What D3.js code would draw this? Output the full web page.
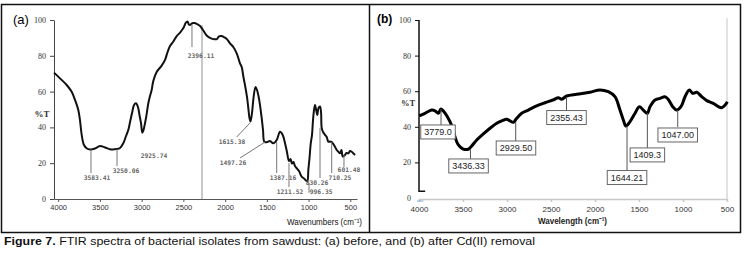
<!DOCTYPE html>
<html>
<head>
<meta charset="utf-8">
<script src="https://cdn.jsdelivr.net/npm/d3@7"></script>
<style>
  body { margin: 0; background: #fff; }
  svg { display: block; }
</style>
</head>
<body>
<svg id="chart" width="746" height="253"></svg>
<script>
// FTIR spectra, panel (a) before and (b) after Cd(II) removal
const xTicks = [4000, 3500, 3000, 2500, 2000, 1500, 1000, 500];
const yTicks = [0, 20, 40, 60, 80, 100];

// panel (a): wavenumber (cm-1) and %T
const wnA = [4050, 3978, 3898, 3838, 3798, 3759, 3739, 3718, 3691, 3655, 3619, 3559, 3499, 3439, 3379, 3299, 3259,
  3220, 3187, 3160, 3139, 3115, 3091, 3068, 3044, 3026, 3008, 2992, 2978, 2960, 2942, 2920, 2900, 2880, 2860, 2820,
  2760, 2720, 2690, 2660, 2620, 2580, 2540, 2500, 2470, 2450, 2435, 2420, 2395, 2370, 2340, 2300, 2265, 2221, 2169,
  2130, 2100, 2073, 2045, 2010, 1981, 1942, 1902, 1861, 1822, 1801, 1780, 1762, 1738, 1722, 1710, 1696, 1678, 1660,
  1636, 1618, 1600, 1582, 1562, 1546, 1530, 1502, 1462, 1423, 1382, 1342, 1310, 1283, 1259, 1235, 1217, 1199, 1181,
  1163, 1139, 1115, 1083, 1055, 1031, 1015, 1003, 989, 974, 959, 947, 935, 923, 909, 896, 881, 863, 851, 843, 827,
  803, 783, 763, 743, 723, 696, 663, 642, 624, 606, 591, 564, 546, 524, 504, 484, 462, 444];
const tA = [70.6, 67.4, 63.7, 59.9, 55.3, 49.7, 44.1, 35.8, 30.2, 28.2, 27.7, 28.2, 29.6, 28.8, 27.8, 27.9, 28.5,
  31.1, 35.2, 38.5, 43.0, 48.0, 52.5, 53.5, 51.4, 46.9, 42.5, 37.0, 38.5, 42.3, 46.9, 53.5, 57.5, 60.9, 66.0, 71.0,
  74.5, 77.7, 82.0, 85.5, 88.0, 91.0, 93.0, 95.5, 98.5, 99.2, 97.6, 97.2, 98.2, 98.3, 97.8, 96.6, 94.4, 91.3, 89.7,
  89.3, 89.3, 90.8, 91.0, 90.3, 89.4, 87.0, 84.9, 81.4, 75.8, 73.7, 68.0, 63.7, 57.0, 50.8, 45.8, 43.3, 48.0, 56.4,
  62.6, 60.9, 57.5, 52.5, 45.3, 38.5, 32.0, 31.7, 32.4, 31.1, 33.0, 37.6, 35.8, 31.3, 26.3, 21.2, 22.3, 19.8, 20.7,
  18.4, 17.0, 15.6, 12.5, 11.5, 10.3, 10.1, 16.2, 22.9, 31.1, 35.8, 44.1, 49.7, 52.5, 49.7, 46.9, 50.8, 51.7, 48.6, 39.7, 37.4,
  35.8, 34.6, 32.0, 32.1, 31.8, 30.2, 27.4, 26.3, 25.5, 27.4, 23.7, 24.6, 25.7, 25.5, 26.8, 26.4, 25.4, 24.6];

// panel (b)
const wnB = [3997, 3932, 3856, 3818, 3781, 3750, 3716, 3678, 3648, 3617, 3591, 3553, 3497, 3440, 3401, 3344, 3269,
  3193, 3117, 3060, 3003, 2966, 2928, 2890, 2833, 2758, 2663, 2568, 2474, 2417, 2378, 2322, 2208, 2057, 1943, 1849,
  1773, 1716, 1678, 1648, 1602, 1545, 1496, 1451, 1406, 1375, 1318, 1261, 1205, 1167, 1117, 1072, 1023, 977, 928,
  890, 844, 787, 730, 656, 599, 561, 522, 496];
const tB = [46.1, 47.6, 49.4, 49.0, 47.6, 50.0, 48.5, 45.7, 42.9, 39.2, 34.4, 29.8, 27.5, 27.4, 29.2, 32.6, 36.0,
  39.2, 42.0, 43.3, 44.2, 43.3, 42.5, 44.8, 47.6, 49.4, 51.7, 53.5, 55.1, 56.3, 55.5, 57.3, 58.3, 59.4, 60.7, 59.7,
  56.9, 49.4, 43.8, 40.4, 42.9, 47.6, 51.3, 49.4, 47.6, 51.3, 55.1, 56.0, 56.9, 55.4, 51.3, 49.4, 51.3, 56.9, 60.7,
  58.8, 59.4, 56.9, 54.7, 53.2, 51.3, 50.7, 52.2, 54.1];

// peak labels
const peaksA = ['2396.11', '3583.41', '3250.06', '2925.74', '1615.38', '1497.26', '1387.16', '1211.52', '996.35',
  '830.26', '710.25', '601.48'];
const peaksB = ['3779.0', '3436.33', '2929.50', '2355.43', '1644.21', '1409.3', '1047.00'];

// callout layout in data units: leader from (w1,t1) to (w2,t2), text at (tw,tt)
const layoutA = [
  { w1: 2397, t1: 97.5, w2: 2397, t2: 84.9, tw: 2289, tt: 78.8 },
  { w1: 3607, t1: 27.7, w2: 3607, t2: 14.5, tw: 3535, tt: 10.6 },
  { w1: 3295, t1: 27.9, w2: 3295, t2: 18.4, tw: 3187, tt: 14.5 },
  { w1: null, tw: 2852, tt: 22.9 },
  { w1: 1702, t1: 42.5, w2: 1861, t2: 34.6, tw: 1918, tt: 30.7 },
  { w1: 1522, t1: 31.8, w2: 1822, t2: 22.9, tw: 1906, tt: 19.0 },
  { w1: 1382, t1: 31.8, w2: 1382, t2: 14.5, tw: 1307, tt: 10.6 },
  { w1: 1235, t1: 20.1, w2: 1235, t2: 6.7, tw: 1223, tt: 2.8 },
  { w1: 995, t1: 8.9, w2: 995, t2: 3.4, tw: 850, tt: 2.8 },
  { w1: 863, t1: 39.7, w2: 863, t2: 11.7, tw: 899, tt: 7.8 },
  { w1: 723, t1: 31.8, w2: 723, t2: 14.5, tw: 624, tt: 10.6 },
  { w1: 576, t1: 24.6, w2: 576, t2: 17.9, tw: 516, tt: 15.1 }
];
const layoutB = [
  { w: 3750, t1: 50.0, t2: 40.4, bw: 3784, bt: 37.1 },
  { w: 3415, t1: 27.5, t2: 21.9, bw: 3437, bt: 18.0 },
  { w: 2901, t1: 42.7, t2: 32.0, bw: 2898, bt: 28.1 },
  { w: 2324, t1: 56.7, t2: 48.9, bw: 2324, bt: 45.2 },
  { w: 1636, t1: 40.4, t2: 15.7, bw: 1636, bt: 11.5 },
  { w: 1405, t1: 47.8, t2: 27.5, bw: 1405, bt: 24.2 },
  { w: 1060, t1: 49.4, t2: 39.9, bw: 1060, bt: 35.4 }
];
// faint vertical line in (a)
const gridLineA = 2277;

const svg = d3.select('#chart');
svg.append('rect').attr('width', 746).attr('height', 253).attr('fill', '#fff');

const xA = d3.scaleLinear().domain([4050, 420]).range([54, 357]);
const yA = d3.scaleLinear().domain([0, 100]).range([199, 20]);
const xB = d3.scaleLinear().domain([4000, 500]).range([419, 727]);
const yB = d3.scaleLinear().domain([0, 100]).range([198, 20]);
const fmt = d3.format('d');

// frame
svg.append('rect').attr('x', 1.5).attr('y', 4.5).attr('width', 739).attr('height', 228)
  .attr('fill', 'none').attr('stroke', '#111').attr('stroke-width', 1.5);
svg.append('line').attr('x1', 369.5).attr('x2', 369.5).attr('y1', 4.5).attr('y2', 232.5)
  .attr('stroke', '#111').attr('stroke-width', 1.5);

// ---------- panel (a)
const gA = svg.append('g');
gA.append('line').attr('x1', xA(gridLineA)).attr('x2', xA(gridLineA)).attr('y1', yA(97)).attr('y2', yA(0))
  .attr('stroke', '#b5b5b5').attr('stroke-width', 1.5);

const axYA = gA.append('g').attr('transform', `translate(${xA(4050)},0)`)
  .call(d3.axisLeft(yA).tickValues(yTicks).tickSize(4).tickSizeOuter(0).tickPadding(4).tickFormat(fmt));
axYA.selectAll('text').attr('font-family', 'Liberation Serif').attr('font-size', 8).attr('fill', '#333');
axYA.selectAll('path,line').attr('stroke', '#444');

const axXA = gA.append('g').attr('transform', `translate(0,${yA(0)})`)
  .call(d3.axisBottom(xA).tickValues(xTicks).tickSize(3).tickSizeOuter(0).tickPadding(3).tickFormat(fmt));
axXA.selectAll('text').attr('font-family', 'Liberation Sans').attr('font-size', 7.5).attr('fill', '#333');
axXA.selectAll('path,line').attr('stroke', '#555');

gA.append('text').attr('x', 13).attr('y', 24).attr('font-family', 'Liberation Sans').attr('font-size', 13)
  .text('(a)');
gA.append('text').attr('x', 42).attr('y', yA(46)).attr('text-anchor', 'middle').attr('font-family', 'Liberation Serif')
  .attr('font-weight', 'bold').attr('font-size', 9).attr('fill', '#333').text('%T');
gA.append('text').attr('x', 287).attr('y', 225)
  .attr('font-family', 'Liberation Sans').attr('font-size', 9).attr('fill', '#111')
  .attr('textLength', 75).attr('lengthAdjust', 'spacingAndGlyphs')
  .text('Wavenumbers (cm\u207B\u00B9)');

const lineA = d3.line().x((d, i) => xA(wnA[i])).y(d => yA(d)).curve(d3.curveCatmullRom.alpha(0.5));
gA.append('path').attr('d', lineA(tA)).attr('fill', 'none').attr('stroke', '#111').attr('stroke-width', 2)
  .attr('stroke-linejoin', 'round');

peaksA.forEach((lab, i) => {
  const L = layoutA[i];
  if (L.w1 !== null) {
    gA.append('line').attr('x1', xA(L.w1)).attr('y1', yA(L.t1)).attr('x2', xA(L.w2)).attr('y2', yA(L.t2))
      .attr('stroke', '#777').attr('stroke-width', 1);
  }
  gA.append('text').attr('x', xA(L.tw)).attr('y', yA(L.tt)).attr('text-anchor', 'middle')
    .attr('font-family', 'DejaVu Sans Mono').attr('font-weight', 'bold').attr('font-size', 6.3)
    .attr('fill', '#666').text(lab);
});

// ---------- panel (b)
const gB = svg.append('g');
gB.append('line').attr('x1', xB(500)).attr('x2', xB(500)).attr('y1', yB(101)).attr('y2', yB(0) + 1)
  .attr('stroke', '#cfcfcf').attr('stroke-width', 1.2);

const axXB = gB.append('g').attr('transform', `translate(0,${yB(0) + 1})`)
  .call(d3.axisBottom(xB).tickValues(xTicks).tickSize(3).tickSizeOuter(0).tickPadding(4).tickFormat(fmt));
axXB.selectAll('path,line').attr('stroke', '#c8c8c8').attr('stroke-width', 1.5);
axXB.selectAll('text').attr('font-family', 'Liberation Sans').attr('font-size', 8).attr('fill', '#333');
gB.append('line').attr('x1', xB(4000) - 2).attr('x2', xB(3950)).attr('y1', yB(0) + 3).attr('y2', yB(0) + 3)
  .attr('stroke', '#7fa7d8').attr('stroke-width', 1);

const axYB = gB.append('g').attr('transform', `translate(${xB(4000)},0)`)
  .call(d3.axisLeft(yB).tickValues(yTicks).tickSize(4).tickSizeOuter(0).tickPadding(4).tickFormat(fmt));
axYB.select('.domain').remove();
axYB.selectAll('.tick').filter(d => d === 0).select('line').remove();
axYB.selectAll('line').attr('stroke', '#111');
axYB.selectAll('text').attr('font-family', 'Liberation Serif').attr('font-size', 8).attr('fill', '#333');
gB.append('path')
  .attr('d', `M${xB(4000)},${yB(100)}V${yB(3.8)}H${xB(3930)}`)
  .attr('fill', 'none').attr('stroke', '#111').attr('stroke-width', 1.5);

gB.append('text').attr('x', 377).attr('y', 23).attr('font-family', 'Liberation Sans').attr('font-weight', 'bold')
  .attr('font-size', 12).text('(b)');
gB.append('text').attr('x', 408).attr('y', yB(51.5)).attr('text-anchor', 'middle').attr('font-family', 'Liberation Serif')
  .attr('font-weight', 'bold').attr('font-size', 8.5).attr('fill', '#333').text('%T');
gB.append('text').attr('x', 538).attr('y', 224)
  .attr('font-family', 'Liberation Sans').attr('font-weight', 'bold').attr('font-size', 9).attr('fill', '#222')
  .attr('textLength', 69).attr('lengthAdjust', 'spacingAndGlyphs')
  .text('Wavelength (cm\u207B\u00B9)');

const lineB = d3.line().x((d, i) => xB(wnB[i])).y(d => yB(d)).curve(d3.curveCatmullRom.alpha(0.5));
gB.append('path').attr('d', lineB(tB)).attr('fill', 'none').attr('stroke', '#000').attr('stroke-width', 3)
  .attr('stroke-linejoin', 'round');

peaksB.forEach((lab, i) => {
  const L = layoutB[i];
  gB.append('line').attr('x1', xB(L.w)).attr('x2', xB(L.w)).attr('y1', yB(L.t1)).attr('y2', yB(L.t2))
    .attr('stroke', '#555').attr('stroke-width', 1);
  const t = gB.append('text').attr('x', xB(L.bw)).attr('y', yB(L.bt) + 3.2).attr('text-anchor', 'middle')
    .attr('font-family', 'Liberation Sans').attr('font-size', 9).attr('fill', '#222').text(lab);
  const w = t.node().getComputedTextLength() + 7;
  gB.insert('rect', () => t.node()).attr('x', xB(L.bw) - w / 2).attr('y', yB(L.bt) - 7)
    .attr('width', w).attr('height', 14).attr('fill', '#fff').attr('stroke', '#666').attr('stroke-width', 1);
});

// caption
const cap = svg.append('text').attr('x', 4).attr('y', 245).attr('font-family', 'Liberation Sans')
  .attr('font-size', 10).attr('fill', '#111').attr('textLength', 531).attr('lengthAdjust', 'spacingAndGlyphs');
cap.append('tspan').attr('font-weight', 'bold').text('Figure 7.');
cap.append('tspan').text(' FTIR spectra of bacterial isolates from sawdust: (a) before, and (b) after Cd(II) removal');
</script>
</body>
</html>
